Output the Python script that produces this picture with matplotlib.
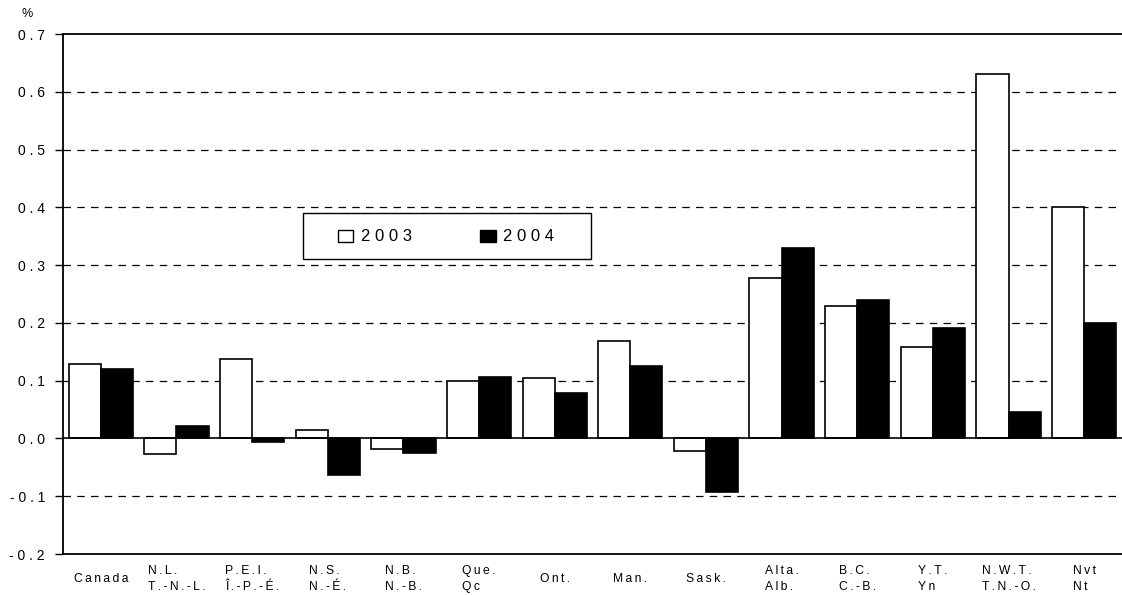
import matplotlib
matplotlib.use("Agg")
import matplotlib.pyplot as plt
import numpy as np
from matplotlib.patches import Patch, Rectangle

plt.rcParams['font.family'] = ['Liberation Sans', 'DejaVu Sans']

categories = ["Canada", "N.L.\nT.-N.-L.", "P.E.I.\nÎ.-P.-É.", "N.S.\nN.-É.", "N.B.\nN.-B.",
              "Que.\nQc", "Ont.", "Man.", "Sask.", "Alta.\nAlb.", "B.C.\nC.-B.",
              "Y.T.\nYn", "N.W.T.\nT.N.-O.", "Nvt\nNt"]
values_2003 = [0.129, -0.027, 0.137, 0.014, -0.018, 0.099, 0.104, 0.168, -0.022, 0.278, 0.229, 0.158, 0.630, 0.401]
values_2004 = [0.120, 0.022, -0.007, -0.064, -0.026, 0.107, 0.079, 0.126, -0.092, 0.330, 0.240, 0.192, 0.045, 0.200]
series_labels = ["2003", "2004"]
yticks = [-0.2, -0.1, 0.0, 0.1, 0.2, 0.3, 0.4, 0.5, 0.6, 0.7]

TS = "\u2009"

def spaced(s, sep=TS):
    return "\n".join(sep.join(line) for line in s.split("\n"))

fig = plt.figure(figsize=(11.22, 5.95), dpi=100)
ax = fig.add_axes([63/1122, 41/595, 1 - 63/1122, (554-34)/595])

x = np.arange(len(categories))
w = 0.425
ax.bar(x - w/2, values_2003, w, color="white", edgecolor="black", linewidth=1.2, zorder=3)
ax.bar(x + w/2, values_2004, w, color="black", edgecolor="black", linewidth=1.2, zorder=3)

ax.set_xlim(-0.5, len(categories) - 0.5)
ax.set_ylim(-0.2, 0.7)
ax.set_yticks(yticks)
ax.set_yticklabels([" ".join(f"{v:.1f}") for v in yticks], fontsize=10)
for v in yticks:
    if v in (0.0, 0.7, -0.2):
        continue
    ax.axhline(v, color="black", linestyle=(0, (6, 5)), linewidth=0.9, zorder=1)
ax.axhline(0.0, color="black", linewidth=1.2, zorder=4)

ax.set_xticks(x)
ax.set_xticklabels([spaced(c) for c in categories], fontsize=8.7, linespacing=1.5,
                   multialignment="left", va="center")
ax.tick_params(axis="x", length=0, pad=18)
ax.tick_params(axis="y", length=6, width=1, direction="out", pad=7)

ax.spines["right"].set_visible(False)
for s in ("top", "bottom", "left"):
    ax.spines[s].set_linewidth(1.3)

fig.text(27/1122, 1 - 14/595, "%", fontsize=9, ha="center", va="center")

# legend box
box = Rectangle((303/1122, 1 - 259/595), (591-303)/1122, (259-213)/595,
                transform=fig.transFigure, facecolor="white", edgecolor="black",
                linewidth=1.0, zorder=5)
fig.add_artist(box)
handles = [Patch(facecolor="white", edgecolor="black", linewidth=1),
           Patch(facecolor="black", edgecolor="black", linewidth=1)]
leg = fig.legend(handles, [" ".join(s) for s in series_labels], ncol=2, fontsize=12,
                 loc="center", bbox_to_anchor=(446/1122, 1 - 237/595),
                 frameon=False, handlelength=0.95, handleheight=0.75,
                 handletextpad=0.45, columnspacing=4.1, borderpad=0)
leg.set_zorder(6)

fig.savefig("out.png", dpi=100)
